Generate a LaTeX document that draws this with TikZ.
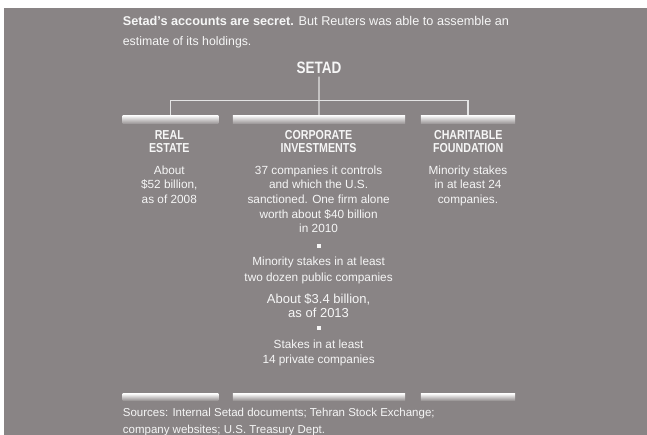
\documentclass[tikz,border=0pt]{standalone}
\usepackage{fontspec}
\setmainfont{Liberation Sans}
\newfontfamily\headfont[FakeStretch=0.82]{Liberation Sans}
\definecolor{bg}{RGB}{137,132,133}
\definecolor{fg}{RGB}{246,246,246}
\definecolor{ln}{RGB}{228,228,228}
\begin{document}
\begin{tikzpicture}[x=1pt,y=-1pt,
  txt/.style={anchor=base,inner sep=0pt,text=fg},
  body/.style={txt,font=\fontsize{11.8}{14}\selectfont},
  head/.style={txt,font=\headfont\bfseries\fontsize{13}{14}\selectfont},
  bar/.style={draw=none,inner sep=0pt,minimum height=8.3pt,top color=white,bottom color=bg!85!white,shading angle=0},
  conn/.style={draw=ln,line width=1.3pt},
  dot/.style={fill=fg,draw=none,inner sep=0pt,minimum size=4pt}]
\useasboundingbox (0,0) rectangle (647,435);
\fill[white] (0,0) rectangle (647,435);
\fill[bg] (4,8) rectangle (647,435);
% title
\node[txt,anchor=base west,font=\fontsize{12.7}{14}\selectfont] (t1) at (122.7,25.7) {\textbf{Setad’s accounts are secret.} But Reuters was able to assemble an};
\node[txt,anchor=base west,font=\fontsize{12.3}{14}\selectfont] (t2) at (122.7,45.5) {estimate of its holdings.};
% root
\node[txt,font=\headfont\bfseries\fontsize{16.5}{18}\selectfont] (setad) at (319,73.3) {SETAD};
% bars
\node[bar,minimum width=95.6pt,anchor=north] (leftbar) at (170.5,115) {};
\node[bar,minimum width=172.3pt,anchor=north] (midbar) at (318.9,115) {};
\node[bar,minimum width=94.3pt,anchor=north] (rightbar) at (467.9,115) {};
\coordinate (jl) at (170.5,100.7);
\coordinate (jr) at (467.9,100.7);
\draw[conn] (setad.south) ++(0,3) -- (midbar.north);
\draw[conn] (leftbar.north) -- (jl) -- (jr) -- (rightbar.north);
% headings
\node[head] (h1a) at (169.3,139.5) {REAL};
\node[head] (h1b) at (169.3,152.8) {ESTATE};
\node[head] (h2a) at (318.6,139.5) {CORPORATE};
\node[head] (h2b) at (318.6,152.8) {INVESTMENTS};
\node[head] (h3a) at (468.3,139.5) {CHARITABLE};
\node[head] (h3b) at (468.3,152.8) {FOUNDATION};
% left body
\node[body] (l1) at (169.3,174.3) {About};
\node[body] (l2) at (169.3,188.9) {\$52 billion,};
\node[body] (l3) at (169.3,203.5) {as of 2008};
% middle body
\node[body] (m1) at (318.6,174.3) {37 companies it controls};
\node[body] (m2) at (318.6,188.9) {and which the U.S.};
\node[body] (m3) at (318.6,203.5) {sanctioned. One firm alone};
\node[body] (m4) at (318.6,218.1) {worth about \$40 billion};
\node[body] (m5) at (318.6,232.7) {in 2010};
\node[dot] (d1) at (319,246) {};
\node[body] (m6) at (318.6,265.9) {Minority stakes in at least};
\node[body] (m7) at (318.6,281.5) {two dozen public companies};
\node[txt,font=\fontsize{13}{15}\selectfont] (m8) at (318.6,303.5) {About \$3.4 billion,};
\node[txt,font=\fontsize{13}{15}\selectfont] (m9) at (318.6,317.8) {as of 2013};
\node[dot] (d2) at (319,328.3) {};
\node[body] (m10) at (318.6,348.5) {Stakes in at least};
\node[body] (m11) at (318.6,363.5) {14 private companies};
% right body
\node[body] (r1) at (468,174.3) {Minority stakes};
\node[body] (r2) at (468,188.9) {in at least 24};
\node[body] (r3) at (468,203.5) {companies.};
% bottom bars
\node[bar,minimum width=95.6pt,minimum height=6.7pt,anchor=north] (lbb) at (170.5,393.3) {};
\node[bar,minimum width=172.3pt,minimum height=6.7pt,anchor=north] (mbb) at (318.9,393.3) {};
\node[bar,minimum width=94.3pt,minimum height=6.7pt,anchor=north] (rbb) at (467.9,393.3) {};
% sources
\node[txt,anchor=base west,font=\fontsize{11.5}{14}\selectfont] (s1) at (122.7,416.7) {Sources: Internal Setad documents; Tehran Stock Exchange;};
\node[txt,anchor=base west,font=\fontsize{11.5}{14}\selectfont] (s2) at (122.7,433.3) {company websites; U.S. Treasury Dept.};
\end{tikzpicture}
\end{document}
